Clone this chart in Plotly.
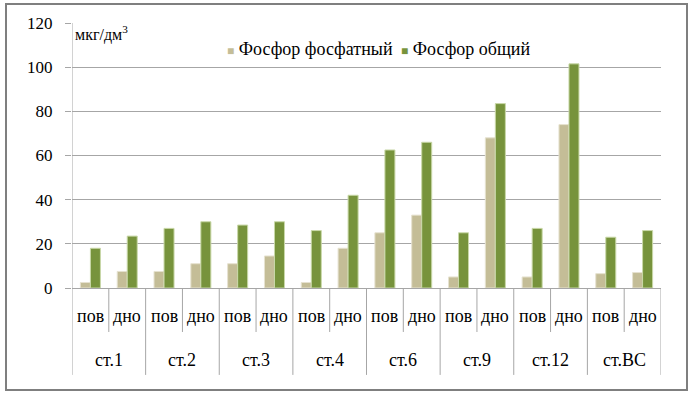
import plotly.graph_objects as go

stations = ["ст.1", "ст.2", "ст.3", "ст.4", "ст.6", "ст.9", "ст.12", "ст.ВС"]
layers = ["пов", "дно"]
phosphate = [2.5, 7.5, 7.5, 11, 11, 14.5, 2.5, 18, 25, 33, 5, 68, 5, 74, 6.5, 7]
total = [18, 23.5, 27, 30, 28.5, 30, 26, 42, 62.5, 66, 25, 83.5, 27, 101.5, 23, 26]
series_names = ["Фосфор фосфатный", "Фосфор общий"]
series_colors = ["#C4BD97", "#77933C"]
y_ticks = [0, 20, 40, 60, 80, 100, 120]

FONT = "Liberation Serif"
GRID = "#A6A6A6"

n = len(stations) * len(layers)
xs = list(range(n))

fig = go.Figure()
fig.add_trace(go.Bar(x=xs, y=phosphate, name=series_names[0],
                     marker=dict(color=series_colors[0], line=dict(color="#E6E2D0", width=1))))
fig.add_trace(go.Bar(x=xs, y=total, name=series_names[1],
                     marker=dict(color=series_colors[1], line=dict(color="#C9D8A8", width=1))))

shapes = []
annotations = []
for i in range(n):
    annotations.append(dict(x=i, y=-0.107, xref="x", yref="paper", text=layers[i % 2],
                            showarrow=False, font=dict(family=FONT, size=18, color="black"),
                            xanchor="center", yanchor="middle"))
    if i % 2 == 0:
        shapes.append(dict(type="line", xref="x", yref="paper", x0=i + 0.5, x1=i + 0.5,
                           y0=0, y1=-0.166, line=dict(color=GRID, width=1)))
for g, st in enumerate(stations):
    annotations.append(dict(x=2 * g + 0.5, y=-0.27, xref="x", yref="paper", text=st,
                            showarrow=False, font=dict(family=FONT, size=18, color="black"),
                            xanchor="center", yanchor="middle"))
for g in range(len(stations) + 1):
    shapes.append(dict(type="line", xref="x", yref="paper", x0=2 * g - 0.5, x1=2 * g - 0.5,
                       y0=(1 if g == 0 else 0), y1=-0.328, line=dict(color=GRID, width=1)))

# units label
annotations.append(dict(x=0.002, y=0.962, xref="paper", yref="paper",
                        text="мкг/дм<sup>3</sup>", showarrow=False,
                        font=dict(family=FONT, size=16, color="black"),
                        xanchor="left", yanchor="middle"))

# legend (drawn as text entries)
legend_x = [(225 - 72) / 589, (399 - 72) / 589]
for nm, col, lx in zip(series_names, series_colors, legend_x):
    annotations.append(dict(x=lx, y=0.9, xref="paper", yref="paper",
                            text=f"<span style='color:{col};font-size:12px'>■</span> {nm}",
                            showarrow=False, font=dict(family=FONT, size=18, color="black"),
                            xanchor="left", yanchor="middle"))

# outer chart border
shapes.append(dict(type="rect", xref="paper", yref="paper",
                   x0=(6 - 72) / 589, x1=(687 - 72) / 589,
                   y0=(288 - 390) / 265, y1=(288 - 4) / 265,
                   line=dict(color="#7F7F7F", width=2), fillcolor="rgba(0,0,0,0)", layer="below"))

fig.update_layout(
    width=692, height=397,
    margin=dict(l=72, r=31, t=23, b=109),
    paper_bgcolor="white", plot_bgcolor="white",
    barmode="group", bargap=0.456, bargroupgap=0,
    font=dict(family=FONT, size=17, color="black"),
    showlegend=False, hovermode=False,
    shapes=shapes, annotations=annotations,
)
fig.update_xaxes(range=[-0.5, n - 0.5], showticklabels=False, showgrid=False,
                 zeroline=False, showline=False, ticks="")
fig.update_yaxes(range=[0, 120], tickvals=y_ticks, showgrid=True, gridcolor=GRID, gridwidth=1,
                 zeroline=True, zerolinecolor=GRID, zerolinewidth=1,
                 showline=False, ticks="outside", ticklen=6, tickcolor=GRID,
                 tickfont=dict(family=FONT, size=17, color="black"), ticklabelstandoff=9)

fig.write_html("out.html", config={"displayModeBar": False},
               post_script="document.body.style.margin='0';document.body.style.overflow='hidden';")
